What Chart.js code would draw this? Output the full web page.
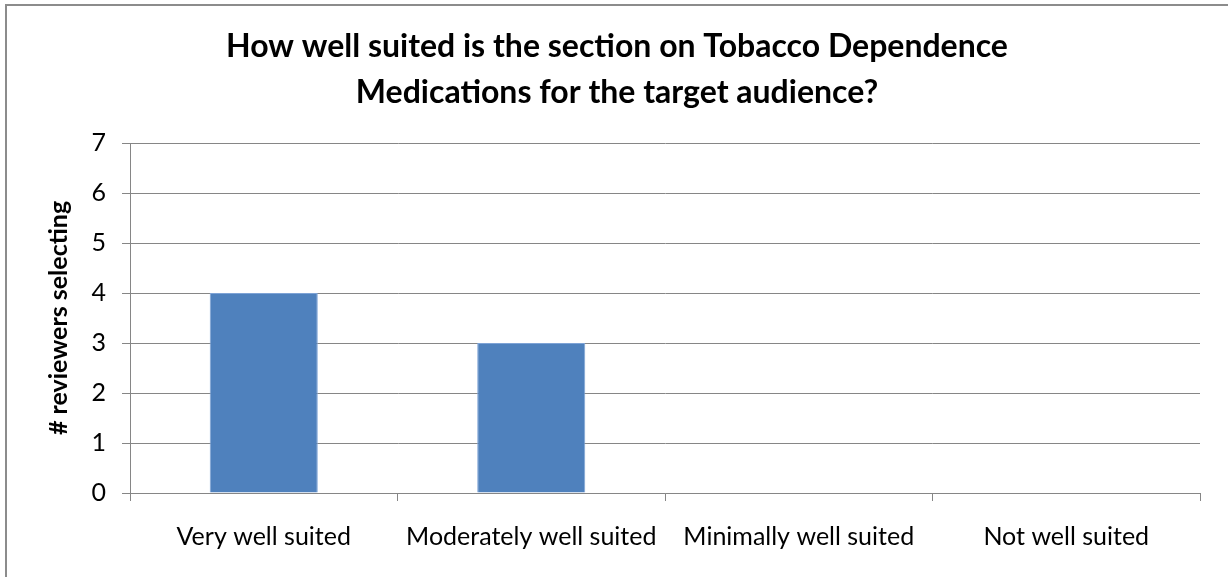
<!DOCTYPE html>
<html>
<head>
<meta charset="utf-8">
<title>Tobacco Dependence Medications</title>
<script src="https://cdn.jsdelivr.net/npm/chart.js@4"></script>
<style>
  html, body { margin: 0; padding: 0; background: #ffffff; }
  #wrap { position: relative; width: 1228px; height: 577px; }
</style>
</head>
<body>
<div id="wrap"><canvas id="chart" width="1228" height="577"></canvas></div>
<script>
  // Chart data
  const categories = ['Very well suited', 'Moderately well suited', 'Minimally well suited', 'Not well suited'];
  const reviewers = [4, 3, 0, 0];
  const yTicks = [0, 1, 2, 3, 4, 5, 6, 7];

  const axisGray = '#868686';
  const fontFamily = 'Lato, "Open Sans", sans-serif';

  // outer frame, only left and top edges are visible in the original
  const framePlugin = {
    id: 'frame',
    afterDraw(chart) {
      const ctx = chart.ctx;
      ctx.save();
      ctx.strokeStyle = '#8c8c8c';
      ctx.lineWidth = 2;
      ctx.beginPath();
      ctx.moveTo(6, chart.height + 2);
      ctx.lineTo(6, 5);
      ctx.lineTo(chart.width + 2, 5);
      ctx.stroke();
      ctx.restore();
    }
  };

  new Chart(document.getElementById('chart').getContext('2d'), {
    type: 'bar',
    data: {
      labels: categories,
      datasets: [{
        label: '# reviewers selecting',
        data: reviewers,
        backgroundColor: '#4f81bd',
        borderColor: '#7ea3d6',
        borderWidth: 1,
        categoryPercentage: 1,
        barPercentage: 0.404
      }]
    },
    options: {
      responsive: false,
      animation: false,
      layout: { padding: { left: 17, right: 11, top: 0, bottom: 0 } },
      plugins: {
        legend: { display: false },
        tooltip: { enabled: false },
        title: {
          display: true,
          text: ['How well suited is the section on Tobacco Dependence', 'Medications for the target audience?'],
          color: '#000000',
          font: { family: fontFamily, size: 32, weight: 'bold', lineHeight: 1.4375 },
          padding: { top: 24, bottom: 27 }
        }
      },
      scales: {
        x: {
          grid: {
            offset: true,
            drawOnChartArea: false,
            drawTicks: true,
            tickLength: 8,
            color: axisGray
          },
          border: { color: axisGray, width: 1 },
          ticks: {
            color: '#000000',
            padding: 21,
            maxRotation: 0,
            font: { family: fontFamily, size: 25 }
          },
          afterFit(scale) { scale.height = 84; }
        },
        y: {
          min: 0,
          max: 7,
          afterBuildTicks(scale) { scale.ticks = yTicks.map(v => ({ value: v })); },
          grid: {
            color: axisGray,
            tickLength: 8
          },
          border: { color: axisGray, width: 1 },
          ticks: {
            color: '#000000',
            padding: 16,
            font: { family: fontFamily, size: 25 }
          },
          title: {
            display: true,
            text: '# reviewers selecting',
            color: '#000000',
            font: { family: fontFamily, size: 25, weight: 'bold', lineHeight: 1.2 },
            padding: { top: 27, bottom: 0 }
          },
          afterFit(scale) { scale.width = 113; }
        },
        // empty spacer on the right so the plot ends where the original does
        spacer: {
          type: 'linear',
          position: 'right',
          display: true,
          grid: { display: false },
          border: { display: false },
          ticks: { display: false },
          afterFit(scale) { scale.width = 17; }
        }
      }
    },
    plugins: [framePlugin]
  });
</script>
</body>
</html>
